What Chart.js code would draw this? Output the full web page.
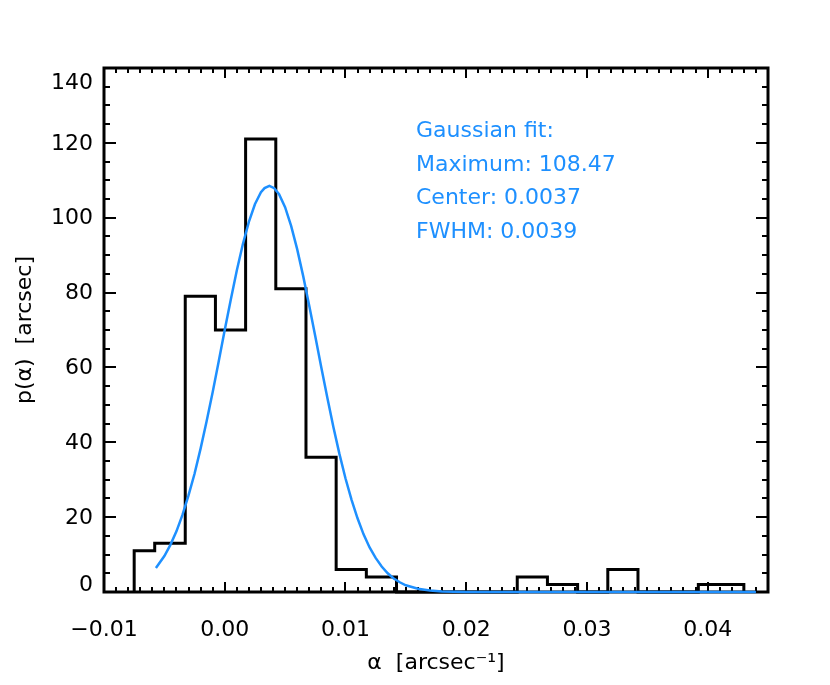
<!DOCTYPE html>
<html lang="en">
<head>
  <meta charset="UTF-8">
  <title>p(alpha) histogram with Gaussian fit</title>
  <script src="https://cdn.jsdelivr.net/npm/chart.js"></script>
  <style>
    body { margin: 0; background: #fff; }
  </style>
</head>
<body>
  <canvas id="myChart" width="830" height="685"></canvas>

  <script>
    // histogram: bin edges (arcsec^-1) and counts per bin
    const binEdges = [-0.0075, -0.0058, -0.00327, -0.00077, 0.00173, 0.00423, 0.00673, 0.00923,
      0.01173, 0.01423, 0.01673, 0.01923, 0.02173, 0.02423, 0.02673, 0.02923, 0.03173, 0.03423,
      0.03673, 0.03923, 0.0430];
    const binCounts = [11, 13, 79, 70, 121, 81, 36, 6, 4, 0, 0, 0, 0, 4, 2, 0, 6, 0, 0, 2];

    // gaussian fit curve
    const fitX = [-0.0057, -0.005, -0.0045, -0.004, -0.0035, -0.003, -0.0025, -0.002, -0.0015,
      -0.001, -0.0005, 0.000, 0.0005, 0.001, 0.0015, 0.002, 0.0025, 0.003, 0.0033, 0.0037,
      0.0041, 0.0045, 0.005, 0.0055, 0.006, 0.0065, 0.007, 0.0075, 0.008, 0.0085, 0.009,
      0.0095, 0.010, 0.0105, 0.011, 0.0115, 0.012, 0.0125, 0.013, 0.0135, 0.014, 0.0145,
      0.015, 0.016, 0.017, 0.018, 0.020, 0.044];
    const fitY = [6.4, 9.6, 12.6, 16.2, 20.6, 25.8, 31.6, 38.3, 45.6,
      53.4, 61.6, 70.0, 78.1, 85.9, 92.9, 98.9, 103.6, 106.8, 107.9, 108.5,
      107.9, 106.3, 102.8, 97.8, 91.6, 84.4, 76.5, 68.3, 60.0, 51.9, 44.1,
      36.9, 30.4, 24.7, 19.7, 15.4, 11.9, 9.1, 6.8, 5.0, 3.6, 2.6,
      1.8, 0.85, 0.4, 0.15, 0, 0];

    const xTicks = [-0.01, 0, 0.01, 0.02, 0.03, 0.04];
    const xTickLabels = ['\u22120.01', '0.00', '0.01', '0.02', '0.03', '0.04'];
    const yTicks = [0, 20, 40, 60, 80, 100, 120, 140];
    const yTickLabels = ['0', '20', '40', '60', '80', '100', '120', '140'];

    const noteLines = ['Gaussian fit:', 'Maximum: 108.47', 'Center: 0.0037', 'FWHM: 0.0039'];

    const FONT = 'DejaVu Sans';
    const BLUE = '#1e90ff';
    Chart.defaults.font.family = FONT;
    Chart.defaults.color = '#000';

    // step outline of the histogram
    const histPts = [{ x: binEdges[0], y: 0 }];
    binCounts.forEach((c, i) => {
      histPts.push({ x: binEdges[i], y: c });
      histPts.push({ x: binEdges[i + 1], y: c });
    });
    histPts.push({ x: binEdges[binEdges.length - 1], y: 0 });

    const fitPts = fitX.map((x, i) => ({ x: x, y: fitY[i] }));

    // IDL style box with inward ticks on all four sides
    const boxTicks = {
      id: 'boxTicks',
      beforeDatasetsDraw(chart) {
        const { ctx, chartArea: a, scales: { x, y } } = chart;
        ctx.save();
        ctx.strokeStyle = '#000';
        ctx.lineWidth = 2;
        ctx.beginPath();
        for (let k = -10; k <= 45; k++) {
          const px = Math.round(x.getPixelForValue(k / 1000));
          const len = k % 10 === 0 ? 10 : 5;
          ctx.moveTo(px, a.bottom); ctx.lineTo(px, a.bottom - len);
          ctx.moveTo(px, a.top); ctx.lineTo(px, a.top + len);
        }
        for (let k = 0; k <= 28; k++) {
          const py = Math.round(y.getPixelForValue(k * 5));
          const len = k % 4 === 0 ? 12 : 6;
          ctx.moveTo(a.left, py); ctx.lineTo(a.left + len, py);
          ctx.moveTo(a.right, py); ctx.lineTo(a.right - len, py);
        }
        ctx.stroke();
        ctx.lineWidth = 3;
        ctx.strokeRect(a.left, a.top, a.right - a.left, a.bottom - a.top);

        // y labels, the end ones pushed inside the box like IDL does
        ctx.fillStyle = '#000';
        ctx.font = '22px ' + FONT;
        ctx.textAlign = 'right';
        ctx.textBaseline = 'middle';
        yTicks.forEach((v, i) => {
          let py = y.getPixelForValue(v);
          if (i === 0) py -= 8;
          if (i === yTicks.length - 1) py += 14;
          ctx.fillText(yTickLabels[i], a.left - 11, py + 1);
        });
        ctx.restore();
      },
      afterDraw(chart) {
        const { ctx, chartArea: a } = chart;
        ctx.save();
        ctx.fillStyle = BLUE;
        ctx.font = '22px ' + FONT;
        ctx.textBaseline = 'alphabetic';
        noteLines.forEach((t, i) => ctx.fillText(t, a.left + 312, a.top + 69 + i * 33.5));
        ctx.restore();
      }
    };

    const ctx = document.getElementById('myChart').getContext('2d');
    const myChart = new Chart(ctx, {
      type: 'line',
      data: {
        datasets: [{
          label: 'Gaussian fit',
          data: fitPts,
          borderColor: BLUE,
          borderWidth: 2.5,
          pointRadius: 0,
          tension: 0,
          clip: false,
          order: 0
        },
        {
          label: 'Histogram',
          data: histPts,
          borderColor: '#000',
          borderWidth: 3,
          pointRadius: 0,
          tension: 0,
          clip: false,
          order: 1
        }]
      },
      options: {
        responsive: false,
        devicePixelRatio: 1,
        animation: false,
        layout: { padding: { top: 68, right: 62, left: 0, bottom: 0 } },
        plugins: { legend: { display: false }, tooltip: { enabled: false } },
        scales: {
          x: {
            type: 'linear',
            min: -0.01,
            max: 0.045,
            afterBuildTicks: s => { s.ticks = xTicks.map(v => ({ value: v })); },
            afterFit: s => { s.height = 93; },
            grid: { display: false, drawTicks: false },
            border: { display: false },
            ticks: {
              callback: (v, i) => xTickLabels[i],
              font: { size: 22 },
              padding: 25,
              maxRotation: 0,
              autoSkip: false
            },
            title: {
              display: true,
              text: '\u03b1  [arcsec\u207b\u00b9]',
              font: { size: 22 },
              padding: { top: 0, bottom: 9 }
            }
          },
          y: {
            min: 0,
            max: 140,
            afterBuildTicks: s => { s.ticks = yTicks.map(v => ({ value: v })); },
            afterFit: s => { s.width = 104; },
            grid: { display: false, drawTicks: false },
            border: { display: false },
            ticks: { display: false },
            title: {
              display: true,
              text: 'p(\u03b1)  [arcsec]',
              font: { size: 22 },
              padding: { top: 12, bottom: 0 }
            }
          }
        }
      },
      plugins: [boxTicks]
    });
  </script>
</body>
</html>
